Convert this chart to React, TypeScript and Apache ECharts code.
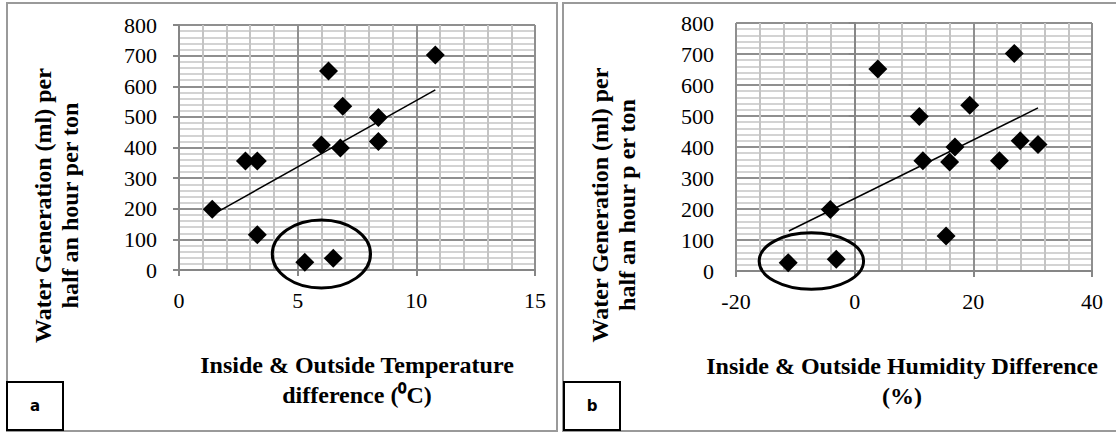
import React, { useEffect, useRef } from "react";
import * as echarts from "echarts";

// Panel a: temperature difference vs water generation
const tempDiff = [1.4, 2.8, 3.3, 3.3, 5.3, 6.5, 6.0, 6.3, 6.9, 6.8, 8.4, 8.4, 10.8];
const waterA = [198, 356, 356, 115, 25, 38, 408, 650, 535, 398, 498, 420, 702];
const trendAX = [1.4, 10.8];
const trendAY = [180, 588];

// Panel b: humidity difference vs water generation
const humDiff = [3.9, -4.1, -3.1, -11.2, 10.9, 11.5, 16.0, 16.9, 15.4, 19.4, 24.4, 26.9, 27.9, 30.9];
const waterB = [652, 198, 38, 27, 498, 356, 352, 400, 113, 535, 356, 702, 420, 408];
const trendBX = [-11.1, 30.9];
const trendBY = [129, 526];

// circled outliers: [centerX, centerY, radiusX, radiusY] in data units
const ellipseA = [6.0, 52, 2.07, 111];
const ellipseB = [-7.3, 32, 8.8, 91];

const yTicks = [0, 100, 200, 300, 400, 500, 600, 700, 800];

const SERIF = "'Liberation Serif', 'Times New Roman', serif";
const MAJOR = "#8f8f8f";
const MINOR = "#c4c4c4";

function xAxisCfg(
  gridIndex: number,
  min: number,
  max: number,
  interval: number,
  name: string,
  shiftLeft: number
) {
  return {
    type: "value",
    gridIndex,
    min,
    max,
    interval,
    name,
    nameLocation: "middle",
    nameGap: 80,
    nameTextStyle: {
      fontFamily: SERIF,
      fontWeight: "bold",
      fontSize: 24,
      color: "#000",
      lineHeight: 30,
      padding: [0, shiftLeft * 2, 0, 0],
    },
    axisLine: { show: true, onZero: false, lineStyle: { color: "#868686", width: 2 } },
    axisTick: { show: true, inside: false, length: 6, lineStyle: { color: "#868686", width: 2 } },
    axisLabel: { fontFamily: SERIF, fontSize: 22, color: "#000", margin: 19 },
    splitLine: { show: true, lineStyle: { color: MAJOR, width: 2 } },
    minorTick: { show: false, splitNumber: 5 },
    minorSplitLine: { show: true, lineStyle: { color: MINOR, width: 2 } },
  };
}

function yAxisCfg(gridIndex: number, name: string) {
  return {
    type: "value",
    gridIndex,
    min: yTicks[0],
    max: yTicks[yTicks.length - 1],
    interval: yTicks[1] - yTicks[0],
    name,
    nameLocation: "middle",
    nameRotate: 90,
    nameGap: 96,
    nameTextStyle: {
      fontFamily: SERIF,
      fontWeight: "bold",
      fontSize: 24,
      color: "#000",
      lineHeight: 27,
      // shifts the rotated title downwards
      padding: [0, 116, 0, 0],
    },
    axisLine: { show: true, lineStyle: { color: "#868686", width: 2 } },
    axisTick: { show: true, inside: false, length: 6, lineStyle: { color: "#868686", width: 2 } },
    axisLabel: { fontFamily: SERIF, fontSize: 22, color: "#000", margin: 22 },
    splitLine: { show: true, lineStyle: { color: MAJOR, width: 2 } },
    minorTick: { show: false, splitNumber: 5 },
    minorSplitLine: { show: true, lineStyle: { color: MINOR, width: 1.5 } },
  };
}

export default function App() {
  const ref = useRef<HTMLDivElement>(null);

  useEffect(() => {
    if (!ref.current) return;
    const chart = echarts.init(ref.current, null, { renderer: "svg" });

    const option: any = {
      animation: false,
      backgroundColor: "#fff",
      grid: [
        { left: 179, top: 25, width: 356, height: 245, containLabel: false, outerBoundsMode: "none" },
        { left: 736, top: 23, width: 356, height: 248, containLabel: false, outerBoundsMode: "none" },
      ],
      xAxis: [
        xAxisCfg(0, 0, 15, 5, "Inside & Outside Temperature\ndifference (\u2070C)", 0),
        xAxisCfg(1, -20, 40, 20, "Inside & Outside Humidity Difference\n(%)", 12),
      ],
      yAxis: [
        yAxisCfg(0, "Water Generation (ml) per\nhalf an hour per ton"),
        yAxisCfg(1, "Water Generation (ml) per\nhalf an hour p er ton"),
      ],
      series: [
        {
          type: "line",
          xAxisIndex: 0,
          yAxisIndex: 0,
          data: trendAX.map((x, i) => [x, trendAY[i]]),
          showSymbol: false,
          symbol: "none",
          lineStyle: { color: "#000", width: 1.5 },
          z: 3,
        },
        {
          type: "scatter",
          xAxisIndex: 0,
          yAxisIndex: 0,
          data: tempDiff.map((x, i) => [x, waterA[i]]),
          symbol: "diamond",
          symbolSize: 19,
          itemStyle: { color: "#000", opacity: 1 },
          z: 4,
        },
        {
          type: "line",
          xAxisIndex: 1,
          yAxisIndex: 1,
          data: trendBX.map((x, i) => [x, trendBY[i]]),
          showSymbol: false,
          symbol: "none",
          lineStyle: { color: "#000", width: 1.5 },
          z: 3,
        },
        {
          type: "scatter",
          xAxisIndex: 1,
          yAxisIndex: 1,
          data: humDiff.map((x, i) => [x, waterB[i]]),
          symbol: "diamond",
          symbolSize: 19,
          itemStyle: { color: "#000", opacity: 1 },
          z: 4,
        },
      ],
    };

    chart.setOption(option);

    const ellipseGraphic = (gridIndex: number, e: number[]) => {
      const c = chart.convertToPixel({ gridIndex } as any, [e[0], e[1]]) as number[];
      const px = chart.convertToPixel({ gridIndex } as any, [e[0] + e[2], e[1] + e[3]]) as number[];
      return {
        type: "ellipse",
        shape: { cx: c[0], cy: c[1], rx: Math.abs(px[0] - c[0]), ry: Math.abs(c[1] - px[1]) },
        style: { fill: "none", stroke: "#000", lineWidth: 3 },
        z: 10,
      };
    };

    const labelBox = (x: number, label: string) => [
      {
        type: "rect",
        shape: { x, y: 382, width: 56, height: 48 },
        style: { fill: "#fff", stroke: "#000", lineWidth: 2 },
        z: 10,
      },
      {
        type: "text",
        x: x + 28,
        y: 406,
        style: {
          text: label,
          fontFamily: "'DejaVu Sans', sans-serif",
          fontWeight: "bold",
          fontSize: 15,
          fill: "#000",
          align: "center",
          verticalAlign: "middle",
        },
        z: 11,
      },
    ];

    chart.setOption({
      graphic: [
        {
          type: "rect",
          shape: { x: 7, y: 3, width: 550, height: 428 },
          style: { fill: "none", stroke: "#9a9a9a", lineWidth: 2 },
          z: 1,
        },
        {
          type: "rect",
          shape: { x: 563, y: 3, width: 560, height: 428 },
          style: { fill: "none", stroke: "#9a9a9a", lineWidth: 2 },
          z: 1,
        },
        ellipseGraphic(0, ellipseA),
        ellipseGraphic(1, ellipseB),
        ...labelBox(7, "a"),
        ...labelBox(564, "b"),
      ],
    });

    return () => {
      chart.dispose();
    };
  }, []);

  return (
    <div
      ref={ref}
      style={{ position: "absolute", left: 0, top: 0, width: 1116, height: 432 }}
    />
  );
}
